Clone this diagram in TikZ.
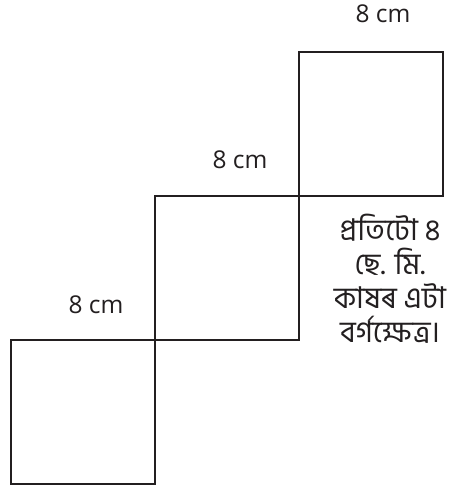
\documentclass[tikz,border=0pt]{standalone}
\usepackage{fontspec}
\setmainfont{Open Sans}
\newfontfamily\bn[Script=Bengali]{Hind Siliguri}
\definecolor{ink}{HTML}{231F20}
\begin{document}
\begin{tikzpicture}[x=1pt,y=-1pt,
  sq/.style={draw=ink,line width=2pt,minimum size=144pt,inner sep=0pt},
  lbl/.style={font=\fontsize{24.5}{28}\selectfont,text=ink,anchor=base,inner sep=0pt},
  note/.style={font=\bn\fontsize{30}{34}\selectfont,text=ink,align=center,inner sep=0pt}]
\useasboundingbox (0,0) rectangle (449,489);
\node[sq] (A) at (83,412) {};
\node[sq] (B) at (227,268) {};
\node[sq] (C) at (371,124) {};
\node[lbl] (la) at (96,313) {8 cm};
\node[lbl] (lb) at (240,168) {8 cm};
\node[lbl] (lc) at (383,23) {8 cm};
\node[note] (t) at (390,279) {প্রতিটো ৪\\ছে. মি.\\কাষৰ এটা\\বৰ্গক্ষেত্ৰ।};
\end{tikzpicture}
\end{document}
